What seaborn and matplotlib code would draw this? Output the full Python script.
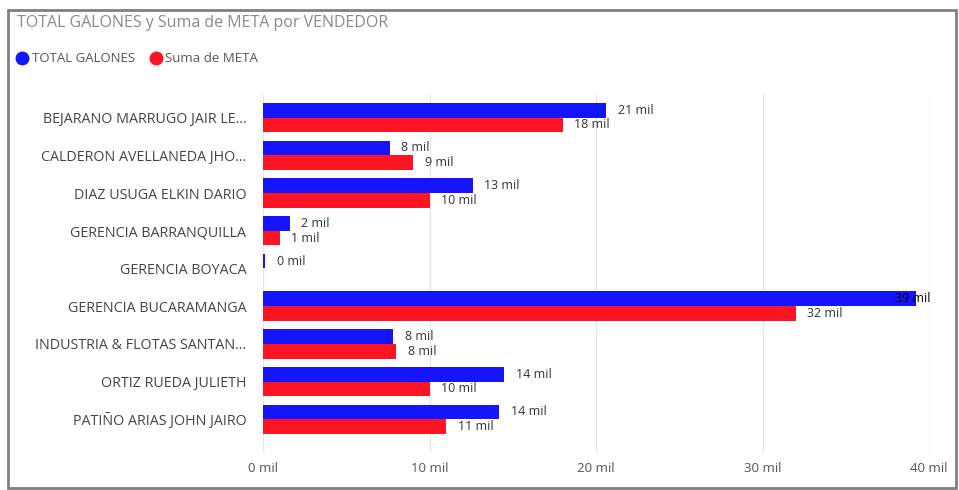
import matplotlib
matplotlib.use("Agg")
import matplotlib.pyplot as plt
from matplotlib.patches import Rectangle
from matplotlib.lines import Line2D
import seaborn as sns
import pandas as pd
import numpy as np

vendedores = [
    "BEJARANO MARRUGO JAIR LE...",
    "CALDERON AVELLANEDA JHO...",
    "DIAZ USUGA ELKIN DARIO",
    "GERENCIA BARRANQUILLA",
    "GERENCIA BOYACA",
    "GERENCIA BUCARAMANGA",
    "INDUSTRIA & FLOTAS SANTAN...",
    "ORTIZ RUEDA JULIETH",
    "PATIÑO ARIAS JOHN JAIRO",
]
# values in thousands of gallons (NaN = no goal recorded)
total_galones = [20.6, 7.6, 12.6, 1.6, 0.15, 39.2, 7.8, 14.5, 14.2]
suma_meta = [18.0, 9.0, 10.0, 1.0, np.nan, 32.0, 8.0, 10.0, 11.0]
series = ["TOTAL GALONES", "Suma de META"]
colores = ["#1414FF", "#FF1423"]
ticks = [0, 10, 20, 30, 40]

df = pd.DataFrame({
    "VENDEDOR": vendedores * 2,
    "valor": total_galones + suma_meta,
    "serie": [series[0]] * len(vendedores) + [series[1]] * len(vendedores),
})

sns.set_theme(style="white")
plt.rcParams["font.family"] = ["Open Sans", "DejaVu Sans"]

W, H = 959, 490
fig = plt.figure(figsize=(W / 100, H / 100), dpi=100)

# plot area in pixel coordinates
left, right, top, bottom = 263, 929, 95, 452
ax = fig.add_axes([left / W, 1 - bottom / H, (right - left) / W, (bottom - top) / H])

sns.barplot(
    data=df, y="VENDEDOR", x="valor", hue="serie", order=vendedores,
    hue_order=series, palette=colores, orient="h", width=0.78, gap=0,
    saturation=1, ax=ax, legend=False, linewidth=0,
)

xmax = 40
ax.set_xlim(0, xmax)
ax.set_ylim(8.87, -0.6)
ax.set_xticks(ticks)
ax.set_xticklabels([f"{t} mil" for t in ticks], fontsize=9.5, color="#555555")
ax.tick_params(axis="y", labelsize=10.3, labelcolor="#444444", length=0, pad=12)
ax.tick_params(axis="x", length=0, pad=7)
ax.set_xlabel("")
ax.set_ylabel("")
for s in ax.spines.values():
    s.set_visible(False)
ax.grid(axis="x", color="#e6e6e6", linewidth=1)
ax.set_axisbelow(True)

# data labels; a label that would run past the plot sits at its right edge
for cont in ax.containers:
    for bar in cont:
        w = bar.get_width()
        if not np.isfinite(w):
            continue
        y = bar.get_y() + bar.get_height() / 2
        if w > xmax - 3:
            ax.text(xmax + 0.1, y, f"{w:.0f} mil", va="center", ha="right",
                    fontsize=9, color="#000000", clip_on=False)
        else:
            ax.text(w + 0.7, y, f"{w:.0f} mil", va="center", ha="left",
                    fontsize=9, color="#333333", clip_on=False)

# title and legend
fig.text(17 / W, 1 - 23 / H, "TOTAL GALONES y Suma de META por VENDEDOR",
         fontsize=11.5, color="#8a8a8a", va="center", ha="left")
handles = [Line2D([0], [0], marker="o", linestyle="", markersize=9,
                  markerfacecolor=c, markeredgecolor=c) for c in colores]
fig.legend(handles, series, loc="center left", bbox_to_anchor=(4 / W, 1 - 59 / H),
           ncol=2, frameon=False, fontsize=9.5, handletextpad=-0.3,
           columnspacing=0.6, labelcolor="#555555", borderaxespad=0)

# visual frame
fig.patches.append(Rectangle((8 / W, 2 / H), 948 / W, 478 / H, transform=fig.transFigure,
                             fill=False, edgecolor="#808080", linewidth=2))

fig.savefig("out.png", dpi=100)
